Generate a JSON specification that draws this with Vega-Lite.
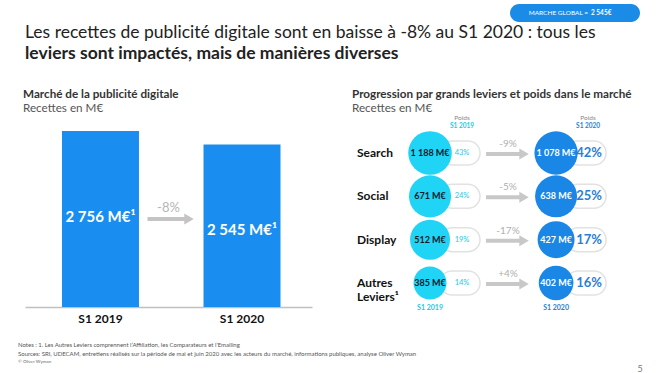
{
  "$schema": "https://vega.github.io/schema/vega-lite/v6.json",
  "padding": {"left": 18, "top": 3, "right": 0, "bottom": 0},
  "background": "white",
  "config": {"font": "Lato", "view": {"stroke": null}},
  "datasets": {
    "badge": [{"key": "global", "part1": "MARCHE GLOBAL =", "part2": "2 545€"}],
    "market": [
      {"period": "S1 2019", "value": 2756, "label": "2 756 M€¹"},
      {"period": "S1 2020", "value": 2545, "label": "2 545 M€¹"}
    ],
    "marketChange": [{"from": "S1 2019", "to": "S1 2020", "change": "-8%"}],
    "levers": [
      {"lever": "Search", "year": "S1 2019", "value": 1188, "label": "1 188 M€", "share": "43%"},
      {"lever": "Social", "year": "S1 2019", "value": 671, "label": "671 M€", "share": "24%"},
      {"lever": "Display", "year": "S1 2019", "value": 512, "label": "512 M€", "share": "19%"},
      {"lever": "Autres Leviers¹", "year": "S1 2019", "value": 385, "label": "385 M€", "share": "14%"},
      {"lever": "Search", "year": "S1 2020", "value": 1078, "label": "1 078 M€", "share": "42%"},
      {"lever": "Social", "year": "S1 2020", "value": 638, "label": "638 M€", "share": "25%"},
      {"lever": "Display", "year": "S1 2020", "value": 427, "label": "427 M€", "share": "17%"},
      {"lever": "Autres Leviers¹", "year": "S1 2020", "value": 402, "label": "402 M€", "share": "16%"}
    ],
    "changes": [
      {"lever": "Search", "name": ["Search"], "from": "S1 2019", "to": "S1 2020", "change": "-9%"},
      {"lever": "Social", "name": ["Social"], "from": "S1 2019", "to": "S1 2020", "change": "-5%"},
      {"lever": "Display", "name": ["Display"], "from": "S1 2019", "to": "S1 2020", "change": "-17%"},
      {"lever": "Autres Leviers¹", "name": ["Autres", "Leviers¹"], "from": "S1 2019", "to": "S1 2020", "change": "+4%"}
    ],
    "years": [{"year": "S1 2019"}, {"year": "S1 2020"}],
    "page": [{"page": "5"}]
  },
  "spacing": 25,
  "vconcat": [
    {
      "width": 550,
      "height": 18,
      "title": {
        "text": "Les recettes de publicité digitale sont en baisse à -8% au S1 2020 : tous les",
        "subtitle": "leviers sont impactés, mais de manières diverses",
        "orient": "bottom",
        "anchor": "start",
        "fontSize": 17.5,
        "fontWeight": "normal",
        "color": "#222222",
        "subtitleFontSize": 17.5,
        "subtitleFontWeight": "bold",
        "subtitleColor": "#222222",
        "subtitlePadding": 3,
        "offset": 2
      },
      "data": {"name": "badge"},
      "layer": [
        {
          "mark": {
            "type": "point",
            "shape": "M -0.8615,-0.1385 L 0.8615,-0.1385 A 0.1385,0.1385 0 0 1 0.8615,0.1385 L -0.8615,0.1385 A 0.1385,0.1385 0 0 1 -0.8615,-0.1385 Z",
            "filled": true,
            "color": "#1a8ce8",
            "opacity": 1,
            "size": 16900
          },
          "encoding": {
            "x": {"field": "key", "type": "nominal", "scale": {"type": "point", "padding": 0, "align": 1}, "axis": null}
          }
        },
        {
          "mark": {"type": "text", "align": "right", "xOffset": 13, "fontSize": 6.5, "color": "white"},
          "encoding": {
            "x": {"field": "key", "type": "nominal", "axis": null},
            "text": {"field": "part1"}
          }
        },
        {
          "mark": {"type": "text", "align": "left", "xOffset": 16, "fontSize": 6.5, "fontWeight": "bold", "color": "white"},
          "encoding": {
            "x": {"field": "key", "type": "nominal", "axis": null},
            "text": {"field": "part2"}
          }
        }
      ]
    },
    {
      "spacing": 17,
      "vconcat": [
        {
          "spacing": 40,
          "hconcat": [
            {
              "width": 287,
              "height": 176,
              "title": {
                "text": "Marché de la publicité digitale",
                "subtitle": "Recettes en M€",
                "anchor": "start",
                "fontSize": 11.7,
                "fontWeight": "bold",
                "color": "#333333",
                "subtitleFontSize": 11.7,
                "subtitleColor": "#555555",
                "subtitlePadding": 3,
                "offset": 16,
                "dx": -2
              },
              "layer": [
                {
                  "data": {"name": "market"},
                  "mark": {"type": "bar", "color": "#1a8ef0"},
                  "encoding": {
                    "x": {
                      "field": "period",
                      "type": "nominal",
                      "scale": {"domain": ["S1 2019", "S1 2020"], "paddingInner": 0.456, "paddingOuter": 0.242, "align": 0.54},
                      "axis": {"title": null, "labelAngle": 0, "ticks": false, "domainColor": "#c0c0c0", "domainWidth": 1.5, "labelFontSize": 12, "labelFontWeight": "bold", "labelColor": "#111111", "labelPadding": 6}
                    },
                    "y": {"field": "value", "type": "quantitative", "scale": {"domain": [0, 2756], "nice": false}, "axis": null}
                  }
                },
                {
                  "data": {"name": "market"},
                  "mark": {"type": "text", "color": "white", "fontWeight": "bold", "fontSize": 15, "dy": 86},
                  "encoding": {
                    "x": {"field": "period", "type": "nominal"},
                    "y": {"field": "value", "type": "quantitative"},
                    "text": {"field": "label"}
                  }
                },
                {
                  "data": {"name": "marketChange"},
                  "mark": {"type": "rule", "color": "#c4c4c4", "strokeWidth": 4, "xOffset": 47, "x2Offset": -56},
                  "encoding": {
                    "x": {"field": "from", "type": "nominal"},
                    "x2": {"field": "to"},
                    "y": {"datum": 1378, "type": "quantitative"}
                  }
                },
                {
                  "data": {"name": "marketChange"},
                  "mark": {"type": "point", "shape": "triangle-right", "filled": true, "color": "#c4c4c4", "opacity": 1, "size": 120, "xOffset": -53},
                  "encoding": {
                    "x": {"field": "to", "type": "nominal"},
                    "y": {"datum": 1378, "type": "quantitative"}
                  }
                },
                {
                  "data": {"name": "marketChange"},
                  "mark": {"type": "text", "color": "#b5b5b5", "fontSize": 13, "xOffset": 68, "dy": -11},
                  "encoding": {
                    "x": {"field": "from", "type": "nominal"},
                    "y": {"datum": 1378, "type": "quantitative"},
                    "text": {"field": "change"}
                  }
                }
              ]
            },
            {
              "width": 270,
              "height": 174,
              "title": {
                "text": "Progression par grands leviers et poids dans le marché",
                "subtitle": "Recettes en M€",
                "anchor": "start",
                "fontSize": 11.7,
                "fontWeight": "bold",
                "color": "#333333",
                "subtitleFontSize": 11.7,
                "subtitleColor": "#555555",
                "subtitlePadding": 3,
                "offset": 0
              },
              "layer": [
                {
                  "data": {"name": "levers"},
                  "mark": {
                    "type": "point",
                    "shape": "M -0.4,-0.6 L 0.4,-0.6 A 0.6,0.6 0 0 1 0.4,0.6 L -0.4,0.6 A 0.6,0.6 0 0 1 -0.4,-0.6 Z",
                    "filled": true,
                    "fill": "white",
                    "stroke": "#e2e2e2",
                    "strokeWidth": 1.5,
                    "opacity": 1,
                    "size": 1600,
                    "xOffset": 30
                  },
                  "encoding": {
                    "x": {"field": "year", "type": "nominal", "scale": {"type": "point", "domain": ["S1 2019", "S1 2020"], "padding": 0.571, "align": 0.542}, "axis": null},
                    "y": {"field": "lever", "type": "nominal", "sort": null, "scale": {"type": "point", "domain": ["Search", "Social", "Display", "Autres Leviers¹"], "padding": 0.508}, "axis": null}
                  }
                },
                {
                  "data": {"name": "levers"},
                  "mark": {"type": "point", "filled": true, "opacity": 1},
                  "encoding": {
                    "x": {"field": "year", "type": "nominal"},
                    "y": {"field": "lever", "type": "nominal"},
                    "size": {"field": "value", "type": "quantitative", "scale": {"domain": [385, 427, 512, 640, 1188], "range": [1089, 1369, 1600, 1764, 1900]}, "legend": null},
                    "color": {"field": "year", "type": "nominal", "scale": {"domain": ["S1 2019", "S1 2020"], "range": ["#1fd4f4", "#1a87e6"]}, "legend": null}
                  }
                },
                {
                  "data": {"name": "levers"},
                  "mark": {"type": "text", "fontSize": 9, "fontWeight": "bold"},
                  "encoding": {
                    "x": {"field": "year", "type": "nominal"},
                    "y": {"field": "lever", "type": "nominal"},
                    "text": {"field": "label"},
                    "color": {"condition": {"test": "datum.year === 'S1 2019'", "value": "#0f1a2a"}, "value": "white"}
                  }
                },
                {
                  "data": {"name": "levers"},
                  "transform": [{"filter": "datum.year === 'S1 2019'"}],
                  "mark": {"type": "text", "fontSize": 7.5, "color": "#22c8ea", "xOffset": 32},
                  "encoding": {
                    "x": {"field": "year", "type": "nominal"},
                    "y": {"field": "lever", "type": "nominal"},
                    "text": {"field": "share"}
                  }
                },
                {
                  "data": {"name": "levers"},
                  "transform": [{"filter": "datum.year === 'S1 2020'"}],
                  "mark": {"type": "text", "fontSize": 13, "fontWeight": "bold", "color": "#2a7ed4", "xOffset": 33},
                  "encoding": {
                    "x": {"field": "year", "type": "nominal"},
                    "y": {"field": "lever", "type": "nominal"},
                    "text": {"field": "share"}
                  }
                },
                {
                  "data": {"name": "changes"},
                  "mark": {"type": "rule", "color": "#c8c8c8", "strokeWidth": 4, "xOffset": 56, "x2Offset": -35, "yOffset": 1},
                  "encoding": {
                    "x": {"field": "from", "type": "nominal"},
                    "x2": {"field": "to"},
                    "y": {"field": "lever", "type": "nominal"}
                  }
                },
                {
                  "data": {"name": "changes"},
                  "mark": {"type": "point", "shape": "triangle-right", "filled": true, "color": "#c8c8c8", "opacity": 1, "size": 120, "xOffset": -32, "yOffset": 1},
                  "encoding": {
                    "x": {"field": "to", "type": "nominal"},
                    "y": {"field": "lever", "type": "nominal"}
                  }
                },
                {
                  "data": {"name": "changes"},
                  "mark": {"type": "text", "color": "#b0b0b0", "fontSize": 10, "xOffset": 78, "dy": -9},
                  "encoding": {
                    "x": {"field": "from", "type": "nominal"},
                    "y": {"field": "lever", "type": "nominal"},
                    "text": {"field": "change"}
                  }
                },
                {
                  "data": {"name": "changes"},
                  "mark": {"type": "text", "align": "left", "fontSize": 12, "fontWeight": "bold", "color": "#111111", "xOffset": -73, "lineHeight": 14},
                  "encoding": {
                    "x": {"datum": "S1 2019", "type": "nominal"},
                    "y": {"field": "lever", "type": "nominal"},
                    "text": {"field": "name", "type": "nominal"}
                  }
                },
                {
                  "data": {"name": "years"},
                  "mark": {"type": "text", "fontSize": 6.5, "color": "#888888", "xOffset": 32, "dy": -35},
                  "encoding": {
                    "x": {"field": "year", "type": "nominal"},
                    "y": {"datum": "Search", "type": "nominal"},
                    "text": {"value": "Poids"}
                  }
                },
                {
                  "data": {"name": "years"},
                  "mark": {"type": "text", "fontSize": 6.5, "fontWeight": "bold", "xOffset": 32, "dy": -27},
                  "encoding": {
                    "x": {"field": "year", "type": "nominal"},
                    "y": {"datum": "Search", "type": "nominal"},
                    "text": {"field": "year"},
                    "color": {"condition": {"test": "datum.year === 'S1 2019'", "value": "#22c8ea"}, "value": "#2a7ed4"}
                  }
                },
                {
                  "data": {"name": "years"},
                  "mark": {"type": "text", "fontSize": 7, "fontWeight": "bold", "dy": 25},
                  "encoding": {
                    "x": {"field": "year", "type": "nominal"},
                    "y": {"datum": "Autres Leviers¹", "type": "nominal"},
                    "text": {"field": "year"},
                    "color": {"condition": {"test": "datum.year === 'S1 2019'", "value": "#22c8ea"}, "value": "#2a7ed4"}
                  }
                }
              ]
            }
          ]
        },
        {
          "width": 615,
          "height": 6,
          "title": {
            "text": [
              "Notes : 1. Les Autres Leviers comprennent l’Affiliation, les Comparateurs et l’Emailing",
              "Sources: SRI, UDECAM, entretiens réalisés sur la période de mai et juin 2020 avec les acteurs du marché, informations publiques, analyse Oliver Wyman"
            ],
            "subtitle": "© Oliver Wyman",
            "anchor": "start",
            "fontSize": 6,
            "fontWeight": "normal",
            "color": "#555555",
            "lineHeight": 9,
            "subtitleFontSize": 4.5,
            "subtitleColor": "#666666",
            "subtitlePadding": 2,
            "dx": -7,
            "offset": 2
          },
          "data": {"name": "page"},
          "mark": {"type": "text", "fontSize": 9, "color": "#777777", "baseline": "middle", "yOffset": -8},
          "encoding": {
            "x": {"field": "page", "type": "nominal", "scale": {"type": "point", "padding": 0, "align": 1}, "axis": null},
            "text": {"field": "page"}
          }
        }
      ]
    }
  ]
}
